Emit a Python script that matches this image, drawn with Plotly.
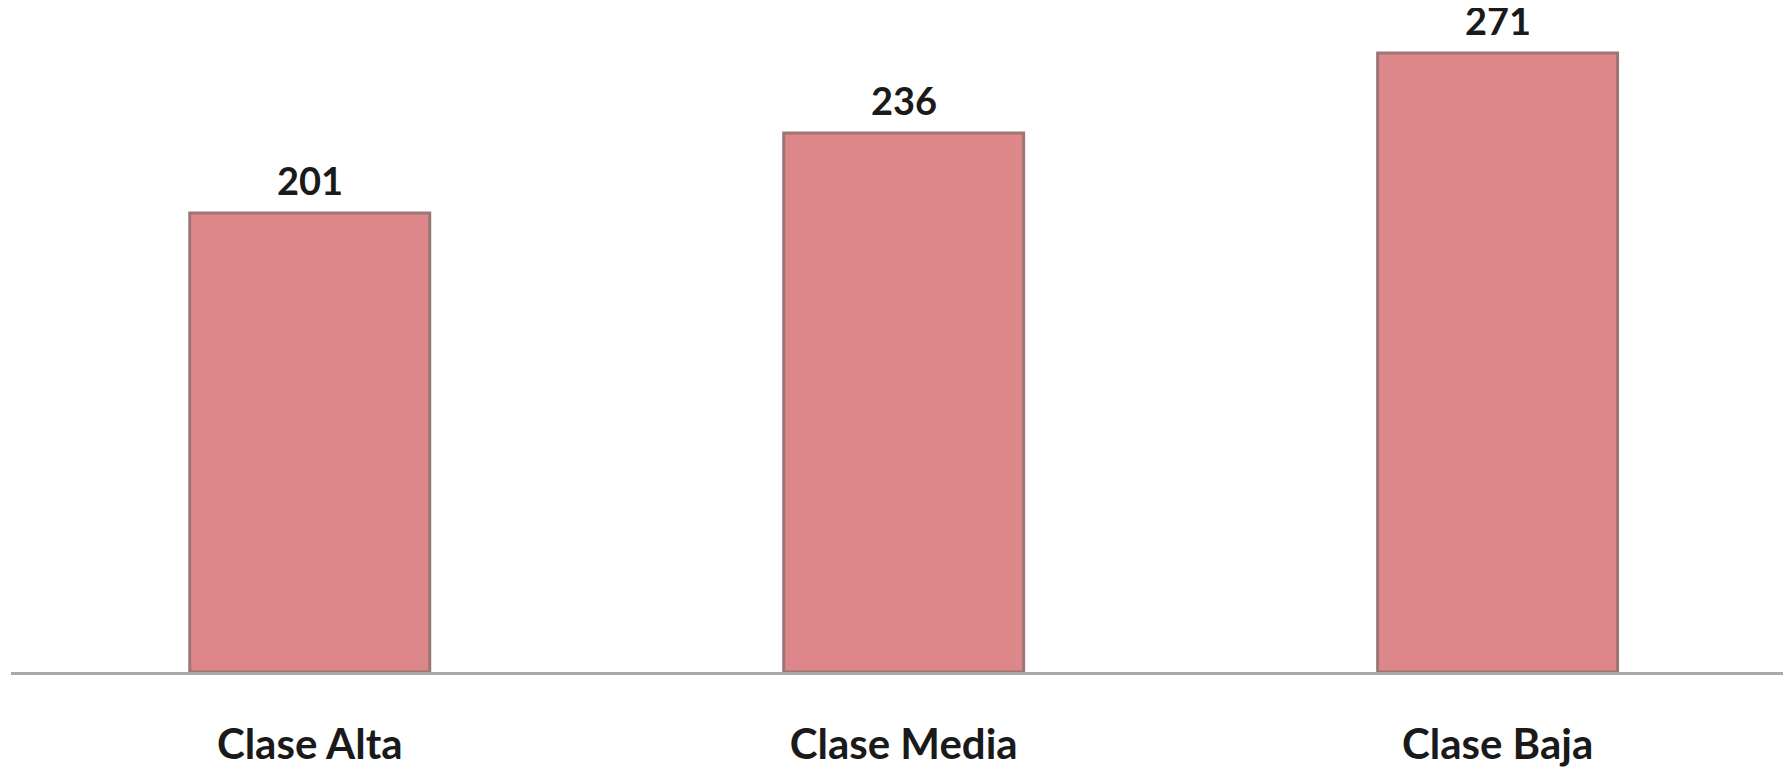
import plotly.graph_objects as go

categories = ["Clase Alta", "Clase Media", "Clase Baja"]
values = [201, 236, 271]
value_labels = ["201", "236", "271"]

bar_color = "#DE878B"
font_family = "Lato, 'Open Sans', sans-serif"

fig = go.Figure()
fig.add_trace(go.Bar(
    x=categories,
    y=values,
    marker=dict(color=bar_color, line=dict(color="#9C7676", width=3)),
    width=0.404,
    hoverinfo="skip",
))

for c, v, t in zip(categories, values, value_labels):
    fig.add_annotation(
        x=c, y=v, text="<b>%s</b>" % t, showarrow=False,
        yanchor="bottom", yshift=8,
        font=dict(family=font_family, size=38, color="#1a1a1a"),
    )

fig.update_layout(
    width=1783, height=764,
    margin=dict(l=3, r=0, t=0, b=100, autoexpand=False),
    paper_bgcolor="white", plot_bgcolor="white",
    showlegend=False,
    xaxis=dict(
        range=[-0.503, 2.494], automargin=False,
        showline=True, linecolor="#A9A9A9", linewidth=3,
        showgrid=False, zeroline=False, ticks="",
        tickfont=dict(family=font_family, size=42, color="#1a1a1a", weight="bold"),
        ticklabelstandoff=34,
    ),
    yaxis=dict(
        range=[0, 290.7], visible=False, showgrid=False, zeroline=False,
        automargin=False,
    ),
)

fig.write_html("out.html")
